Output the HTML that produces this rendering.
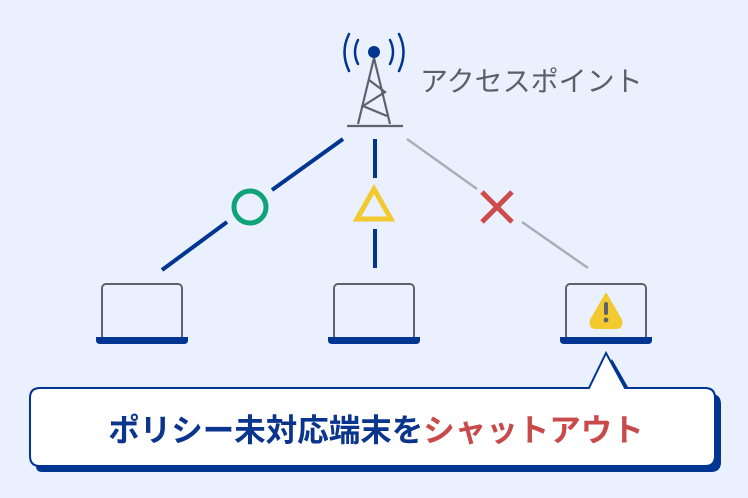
<!DOCTYPE html>
<html><head><meta charset="utf-8"><style>
html,body{margin:0;padding:0;background:#eaf0fd;}
svg{display:block}
</style></head><body>
<svg width="748" height="498" viewBox="0 0 748 498" xmlns="http://www.w3.org/2000/svg">
<rect width="748" height="498" fill="#eaf0fd"/>
<g fill="none" stroke="#003591" stroke-width="2.5" stroke-linecap="round">
<path d="M358 40 Q352 52 358 64"/>
<path d="M349 34 Q340 52 349 71"/>
<path d="M390 40 Q396 52 390 64"/>
<path d="M399 34 Q408 52 399 71"/>
</g>
<circle cx="374" cy="52" r="6" fill="#003591"/>
<g fill="none" stroke="#5c636d" stroke-width="2.2">
<path d="M374 58 L358 124 M374 58 L390 124"/>
<path d="M369 80 L385 92 L363 106 L387 116"/>
<path d="M347 126 L403 126"/>
</g>
<text x="420" y="91" font-family="Liberation Sans, 'Noto Sans CJK JP', sans-serif" font-size="28" fill="#5a6069">アクセスポイント</text>
<g stroke="#003591" stroke-width="4">
<line x1="343" y1="139" x2="272" y2="190"/>
<line x1="227" y1="222" x2="162" y2="270"/>
<line x1="375" y1="139" x2="375" y2="178"/>
<line x1="375" y1="229" x2="375" y2="268"/>
</g>
<g stroke="#a9afb9" stroke-width="2.5">
<line x1="407" y1="139" x2="477" y2="189"/>
<line x1="522" y1="222" x2="588" y2="268"/>
</g>
<circle cx="250" cy="207" r="16" fill="none" stroke="#10a37a" stroke-width="5"/>
<path d="M374 189 L391 219 L357 219 Z" fill="none" stroke="#f2c92e" stroke-width="5" stroke-linejoin="miter"/>
<g stroke="#cd4b4b" stroke-width="5"><line x1="482" y1="192" x2="512" y2="222"/><line x1="512" y1="192" x2="482" y2="222"/></g>
<g fill="none" stroke="#5c636d" stroke-width="2">
<rect x="102" y="284" width="80" height="56" rx="4"/>
<rect x="334" y="284" width="80" height="56" rx="4"/>
<rect x="566" y="284" width="80" height="56" rx="4"/>
</g>
<g fill="#003591">
<path d="M96 337 H188 V340 Q188 344 184 344 H100 Q96 344 96 340 Z"/>
<path d="M328 337 H420 V340 Q420 344 416 344 H332 Q328 344 328 340 Z"/>
<path d="M560 337 H652 V340 Q652 344 648 344 H564 Q560 344 560 340 Z"/>
</g>
<path d="M606 294 L621 320 Q623 328 616 328 L596 328 Q589 328 591 320 Z" fill="#f2c92e" stroke="#f2c92e" stroke-width="2" stroke-linejoin="round"/>
<rect x="604" y="302" width="4" height="13" rx="2" fill="#5c636d"/>
<circle cx="606" cy="320" r="2.4" fill="#5c636d"/>
<path d="M42 394 H595 L612 359 L632 394 H711 Q721 394 721 404 V462 Q721 472 711 472 H42 Q36 472 36 466 Z" fill="#003591"/>
<path d="M40 388 H589 L606 353 L625 388 H705 Q715 388 715 398 V456 Q715 466 705 466 H40 Q30 466 30 456 V398 Q30 388 40 388 Z" fill="#fff" stroke="#003591" stroke-width="2"/>
<text x="376" y="441" text-anchor="middle" font-family="Liberation Sans, 'Noto Sans CJK JP', sans-serif" font-size="31.5" font-weight="bold" fill="#0b358d">ポリシー未対応端末を<tspan fill="#c94a4a">シャットアウト</tspan></text>
</svg>
</body></html>
